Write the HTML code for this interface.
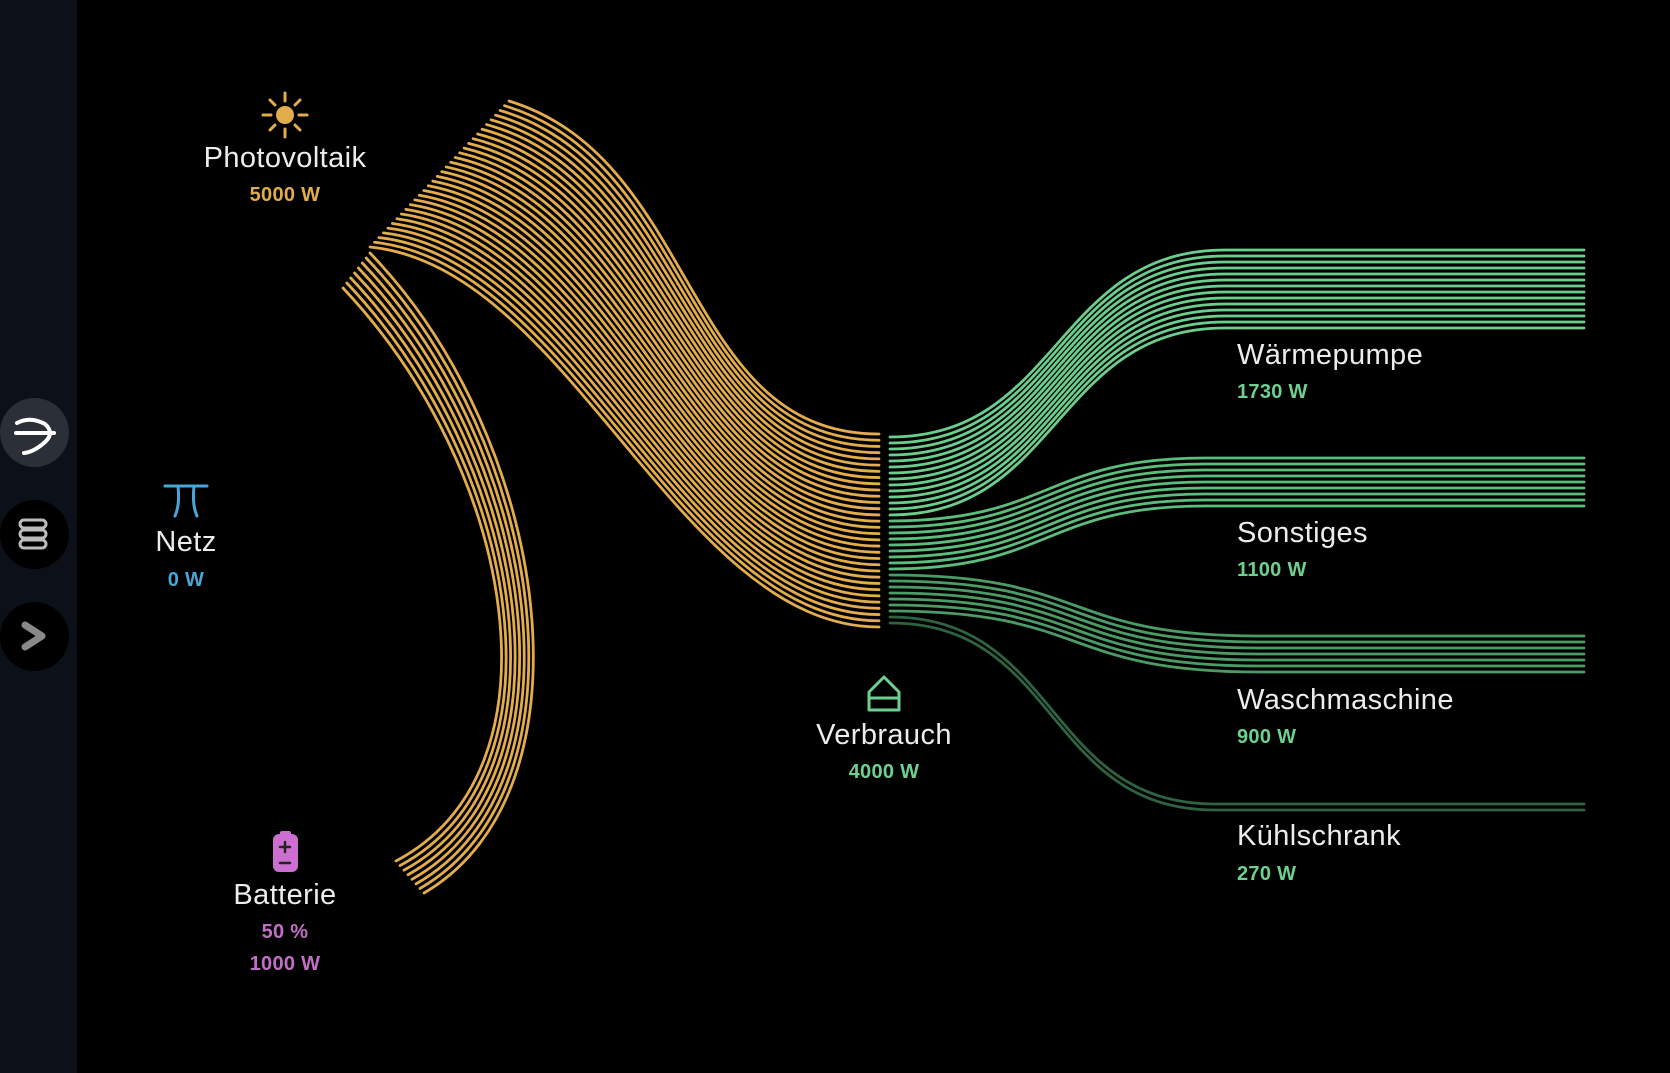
<!DOCTYPE html>
<html><head><meta charset="utf-8">
<style>
html,body{margin:0;padding:0;background:#000;}
body{width:1670px;height:1073px;position:relative;overflow:hidden;font-family:"Liberation Sans",sans-serif;}
#side{position:absolute;left:0;top:0;width:77px;height:1073px;background:#0c1018;}
.btn{position:absolute;left:0;width:69px;height:69px;border-radius:50%;}
.lbl{position:absolute;transform:translateX(-50%);white-space:nowrap;text-align:center;}
.t{color:#ececec;font-size:29px;letter-spacing:0.4px;}
.v{font-size:20px;font-weight:bold;letter-spacing:0.3px;}
.rl{position:absolute;white-space:nowrap;}
svg{position:absolute;left:0;top:0;}
</style></head><body>
<div id="side"></div>
<div class="btn" style="top:398px;background:#2a2f38"></div>
<div class="btn" style="top:500px;background:#000"></div>
<div class="btn" style="top:602px;background:#000"></div>
<svg width="1670" height="1073" id="s">
 <g fill="none" stroke-linecap="round">
  <path d="M17 423 Q30 416 45 424 Q55 433 45 442 Q34 452 24 453 M16 433 H54" stroke="#fff" stroke-width="4"/>
  <g stroke="#bbb" stroke-width="3"><rect x="20" y="520" width="26" height="8" rx="4"/><rect x="20" y="530" width="26" height="8" rx="4"/><rect x="20" y="540" width="26" height="8" rx="4"/></g>
  <path d="M25 625 L42 636 L25 647" stroke="#888" stroke-width="7" stroke-linejoin="round"/>
  <g stroke="#e0ad4a" stroke-width="3">
   <line x1="285" y1="93" x2="285" y2="101"/><line x1="285" y1="129" x2="285" y2="137"/>
   <line x1="263" y1="115" x2="271" y2="115"/><line x1="299" y1="115" x2="307" y2="115"/>
   <line x1="270" y1="100" x2="275" y2="105"/><line x1="295" y1="125" x2="300" y2="130"/>
   <line x1="300" y1="100" x2="295" y2="105"/><line x1="270" y1="130" x2="275" y2="125"/>
  </g>
  <circle cx="285" cy="115" r="9" fill="#e0ad4a"/>
  <path d="M165 486 H207 M178 486 Q180 505 175 516 M194 486 Q192 505 197 516" stroke="#4aa6d6" stroke-width="3"/>
  <rect x="273" y="834" width="25" height="38" rx="6" fill="#cc6fd0"/>
  <rect x="280" y="831" width="11" height="5" rx="2" fill="#cc6fd0"/>
  <path d="M285 842 V852 M280 847 H290 M280 863 H290" stroke="#222" stroke-width="2.5"/>
  <path d="M869 710 V692 L884 677 L899 692 V710 Z M869 698 H899" stroke="#6dd08f" stroke-width="3" stroke-linejoin="round"/>
  <g id="flows" stroke-width="2.8"></g>
 </g>
</svg>
<div class="lbl t" style="left:285px;top:142px">Photovoltaik</div>
<div class="lbl v" style="left:285px;top:184px;color:#e0ad4a">5000 W</div>
<div class="lbl t" style="left:186px;top:526px">Netz</div>
<div class="lbl v" style="left:186px;top:569px;color:#4aa6d6">0 W</div>
<div class="lbl t" style="left:285px;top:879px">Batterie</div>
<div class="lbl v" style="left:285px;top:921px;color:#c070c4">50 %</div>
<div class="lbl v" style="left:285px;top:953px;color:#c070c4">1000 W</div>
<div class="lbl t" style="left:884px;top:719px">Verbrauch</div>
<div class="lbl v" style="left:884px;top:761px;color:#6dd08f">4000 W</div>
<div class="rl t" style="left:1237px;top:339px">Wärmepumpe</div>
<div class="rl v" style="left:1237px;top:381px;color:#6dd08f">1730 W</div>
<div class="rl t" style="left:1237px;top:517px">Sonstiges</div>
<div class="rl v" style="left:1237px;top:559px;color:#6dd08f">1100 W</div>
<div class="rl t" style="left:1237px;top:684px">Waschmaschine</div>
<div class="rl v" style="left:1237px;top:726px;color:#6dd08f">900 W</div>
<div class="rl t" style="left:1237px;top:820px">Kühlschrank</div>
<div class="rl v" style="left:1237px;top:863px;color:#6dd08f">270 W</div>
<script>
var g=document.getElementById('flows'),h='';
function L(a,b,t){return a+(b-a)*t;}
function p(d,c){h+='<path d="'+d+'" stroke="'+c+'"/>';}
for(var i=0;i<32;i++){var t=i/31;
 var px=L(509,370,t),py=L(101,247,t),ex=879,ey=L(434,627,t);
 var c1x=px+L(191,200,t),c1y=py+L(59,20,t),c2x=ex-L(197,200,t);
 p('M'+px+' '+py+' C'+c1x+' '+c1y+' '+c2x+' '+ey+' '+ex+' '+ey,'#e3ad4b');}
for(var i=0;i<8;i++){var t=i/7;
 var sx=L(370,343,t),sy=L(253,288,t),ex=L(424,396,t),ey=L(893,861,t);
 p('M'+sx+' '+sy+' C'+L(550,515,t)+' '+L(440,470,t)+' '+L(600,568,t)+' '+L(790,770,t)+' '+ex+' '+ey,'#e3ad4b');}
var grp=[[14,250,'#6cce8c',1225,170],[9,458,'#5cbc7b',1205,160],[7,636,'#4c9b66',1260,200],[2,804,'#2f6240',1215,170]];
var k=0;
grp.forEach(function(q){for(var j=0;j<q[0];j++){var sy=437+6*k,ey=q[1]+6*j;k++;
 var hx=q[3],m=q[4];
 p('M890 '+sy+' C'+(890+m)+' '+sy+' '+(hx-m)+' '+ey+' '+hx+' '+ey+' H1584',q[2]);}});
g.innerHTML=h;
</script>
</body></html>
